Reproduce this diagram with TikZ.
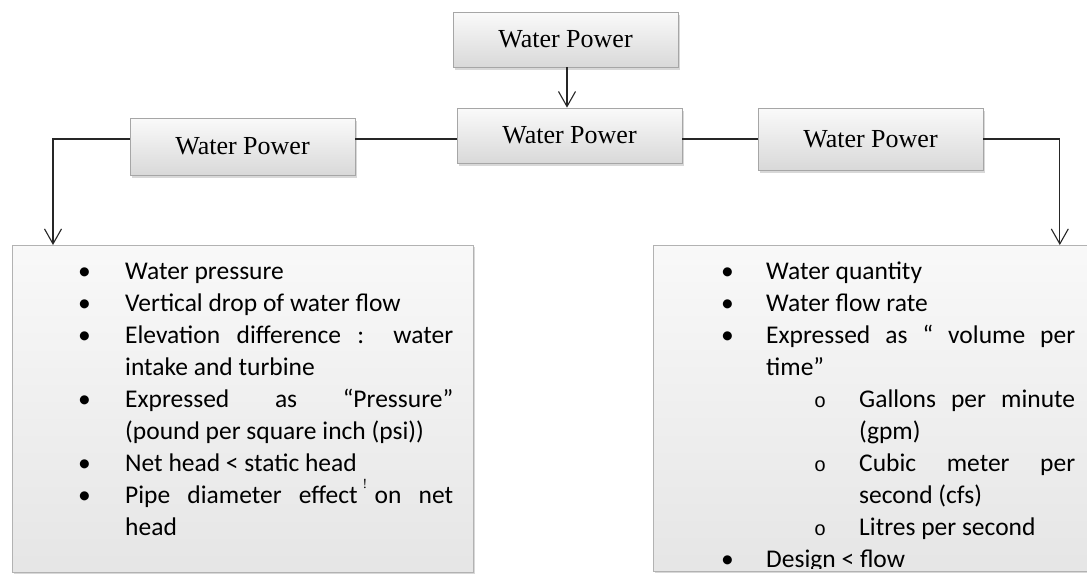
\documentclass[tikz,border=0pt]{standalone}
\usepackage{fontspec}
\setmainfont{Liberation Serif}
\newfontfamily\calfont{Carlito}
\newfontfamily\monofont{Liberation Mono}
\usetikzlibrary{arrows.meta,shadows}
\newcommand\lbul[1]{\makebox[47pt][l]{\textbullet}#1\par}
\newcommand\lcont[1]{\hspace*{47pt}#1\par}
\newcommand\rbul[1]{\makebox[45pt][l]{\textbullet}#1\par}
\newcommand\rcont[1]{\hspace*{45pt}#1\par}
\newcommand\rsub[1]{\hspace*{93pt}\makebox[45pt][l]{\monofont\fontsize{20}{20}\selectfont o}#1\par}
\newcommand\rsubc[1]{\hspace*{138pt}#1\par}
\begin{document}
\begin{tikzpicture}[x=1pt,y=-1pt,
  titlebox/.style={draw=gray!70, line width=0.8pt, top color=gray!4, bottom color=gray!30,
    minimum width=225pt, inner sep=0pt,
    font=\fontsize{26}{28}\selectfont,
    drop shadow={opacity=0.3, shadow xshift=1.5pt, shadow yshift=-2.5pt}},
  listbox/.style={draw=gray!60, line width=0.8pt, top color=gray!5, bottom color=gray!20,
    inner sep=0pt, drop shadow={opacity=0.3, shadow xshift=1.5pt, shadow yshift=-2pt}},
  line/.style={draw=black!85, line width=1.3pt},
  arr/.style={line, -{Straight Barb[length=15pt,width=17pt,line width=1.1pt]}},
  listtext/.style={inner sep=0pt, anchor=base west, font=\calfont\fontsize{25.5}{32}\selectfont}
]
\useasboundingbox (0,0) rectangle (1087,576);
\fill[white] (0,0) rectangle (1087,576);

% title boxes
\node[titlebox, minimum height=55pt] (top) at (565.5,39.5) {Water Power};
\node[titlebox, minimum height=55pt] (mid) at (569.5,135.5) {Water Power};
\node[titlebox, minimum height=57pt] (left) at (242.5,146.5) {Water Power};
\node[titlebox, minimum height=62pt] (right) at (870.5,139) {Water Power};

% list boxes
\node[listbox, anchor=north west, minimum width=461pt, minimum height=327pt] (lbox) at (12,245) {};
\node[listbox, anchor=north west, minimum width=445pt, minimum height=326pt] (rbox) at (653,245) {};

% connectors
\path ([yshift=7.5pt]left.east) coordinate (a1);
\path ([xshift=41pt]lbox.north west) coordinate (lt);
\path ([xshift=-39pt]rbox.north east) coordinate (rt);
\path ([xshift=1.5pt]top.south) coordinate (ts);
\draw[arr] (ts) -- (ts |- mid.north);
\draw[line] (a1) -- (a1 -| mid.west);
\draw[line] (mid.east |- a1) -- (a1 -| right.west);
\draw[arr] (left.west |- a1) -| (lt);
\draw[arr] (right.east |- a1) -| (rt);

% left list
\node[listtext] (ltext) at (78,279) {\begin{minipage}[t]{400pt}
\lbul{Water pressure}
\lbul{Vertical drop of water flow}
\lbul{\makebox[328pt][s]{Elevation difference : water}}
\lcont{intake and turbine}
\lbul{\makebox[328pt][s]{Expressed as “Pressure”}}
\lcont{(pound per square inch (psi))}
\lbul{Net head < static head}
\lbul{\makebox[328pt][s]{Pipe diameter effect on net}}
\lcont{head}
\end{minipage}};
\node[inner sep=0pt, font=\fontsize{14}{14}\selectfont] (mark) at (365,484) {!};

% right list
\begin{scope}
\clip (653,245) rectangle (1087,568);
\node[listtext] (rtext) at (721,279) {\begin{minipage}[t]{400pt}
\rbul{Water quantity}
\rbul{Water flow rate}
\rbul{\makebox[309pt][s]{Expressed as “ volume per}}
\rcont{time”}
\rsub{\makebox[216pt][s]{Gallons per minute}}
\rsubc{(gpm)}
\rsub{\makebox[216pt][s]{Cubic meter per}}
\rsubc{second (cfs)}
\rsub{Litres per second}
\rbul{Design < flow}
\end{minipage}};
\end{scope}
\end{tikzpicture}
\end{document}
